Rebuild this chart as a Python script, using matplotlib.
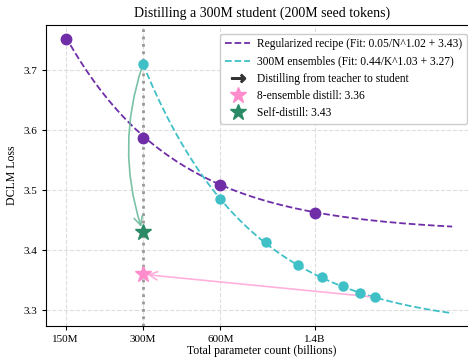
import matplotlib
matplotlib.use("Agg")
import matplotlib.pyplot as plt
import numpy as np
from matplotlib.lines import Line2D
from matplotlib.patches import FancyArrowPatch

plt.rcParams["font.family"] = ["Liberation Serif", "DejaVu Serif"]

# regularized recipe, one model per size (params in billions)
reg_params = [0.15, 0.3, 0.6, 1.4]
reg_loss = [3.752, 3.587, 3.509, 3.462]

# ensembles of K 300M models
ens_k = [1, 2, 3, 4, 5, 6, 7, 8]
ens_loss = [3.710, 3.485, 3.413, 3.376, 3.355, 3.340, 3.329, 3.322]
student_size = 0.3

self_distill = 3.43
ens_distill = 3.36

tick_vals = [0.15, 0.3, 0.6, 1.4]
tick_labels = ["150M", "300M", "600M", "1.4B"]

purple = "#6f2da8"
cyan = "#3fc0c6"
green = "#2a8a66"
pink = "#ff8ccc"

fig = plt.figure(figsize=(4.68, 3.58), dpi=100)
ax = fig.add_axes([46 / 468, 32 / 358, 432 / 468, 301 / 358])
ax.set_xscale("log")

# fitted curves
n = np.geomspace(0.15, 4.8, 200)
ax.plot(n, 0.047 / n ** 1.02 + 3.43, "--", color=purple, lw=1.3, zorder=2)
k = np.geomspace(1, 16, 200)
ax.plot(k * student_size, 0.44 / k ** 1.03 + 3.27, "--", color=cyan, lw=1.3, zorder=2)

ax.plot(reg_params, reg_loss, "o", color=purple, ms=7.5, zorder=4)
ax.plot([kk * student_size for kk in ens_k], ens_loss, "o", color=cyan, ms=6.5, zorder=4)

ax.axvline(student_size, color="#999999", ls=":", lw=2, zorder=1)

# teacher -> student arrows
ax.add_patch(FancyArrowPatch((student_size, ens_loss[0]), (student_size, self_distill),
                             connectionstyle="arc3,rad=0.17", arrowstyle="->,head_length=6,head_width=3",
                             color="#6dbb9c", lw=1.2, alpha=0.9, zorder=3, shrinkB=4))
ax.add_patch(FancyArrowPatch((ens_k[-1] * student_size, ens_loss[-1]), (student_size, ens_distill),
                             arrowstyle="->,head_length=6,head_width=3",
                             color="#ffb0dc", lw=1.2, zorder=3, shrinkB=3))

ax.plot(student_size, self_distill, "*", color=green, ms=12, zorder=5)
ax.plot(student_size, ens_distill, "*", color=pink, ms=12, zorder=5)

ax.set_xlim(0.1257, 6.05)
ax.set_ylim(3.274, 3.775)
ax.set_xticks(tick_vals)
ax.set_xticklabels(tick_labels)
ax.xaxis.set_minor_locator(matplotlib.ticker.NullLocator())
ax.set_yticks([3.3, 3.4, 3.5, 3.6, 3.7])
ax.tick_params(labelsize=8, length=3)
ax.grid(True, ls="--", color="#dddddd", lw=0.8)
ax.set_axisbelow(True)

ax.set_title("Distilling a 300M student (200M seed tokens)", fontsize=10)
ax.set_ylabel("DCLM Loss", fontsize=8.5)
ax.set_xlabel("Total parameter count (billions)", fontsize=8.5, labelpad=1)

handles = [
    Line2D([], [], ls="--", color=purple, lw=1.3),
    Line2D([], [], ls="--", color=cyan, lw=1.3),
    Line2D([], [], ls="none", marker=r"$\rightarrow$", color="#333333", ms=10),
    Line2D([], [], ls="none", marker="*", color=pink, ms=12),
    Line2D([], [], ls="none", marker="*", color=green, ms=12),
]
labels = [
    "Regularized recipe (Fit: 0.05/N^1.02 + 3.43)",
    "300M ensembles (Fit: 0.44/K^1.03 + 3.27)",
    "Distilling from teacher to student",
    f"8-ensemble distill: {ens_distill:.2f}",
    f"Self-distill: {self_distill:.2f}",
]
ax.legend(handles, labels, loc="upper left", bbox_to_anchor=(0.39, 0.99), fontsize=8.3,
          handlelength=2.2, handletextpad=0.6, borderpad=0.4, labelspacing=0.45,
          framealpha=1, edgecolor="#cccccc")

fig.savefig("out.png", dpi=100)
